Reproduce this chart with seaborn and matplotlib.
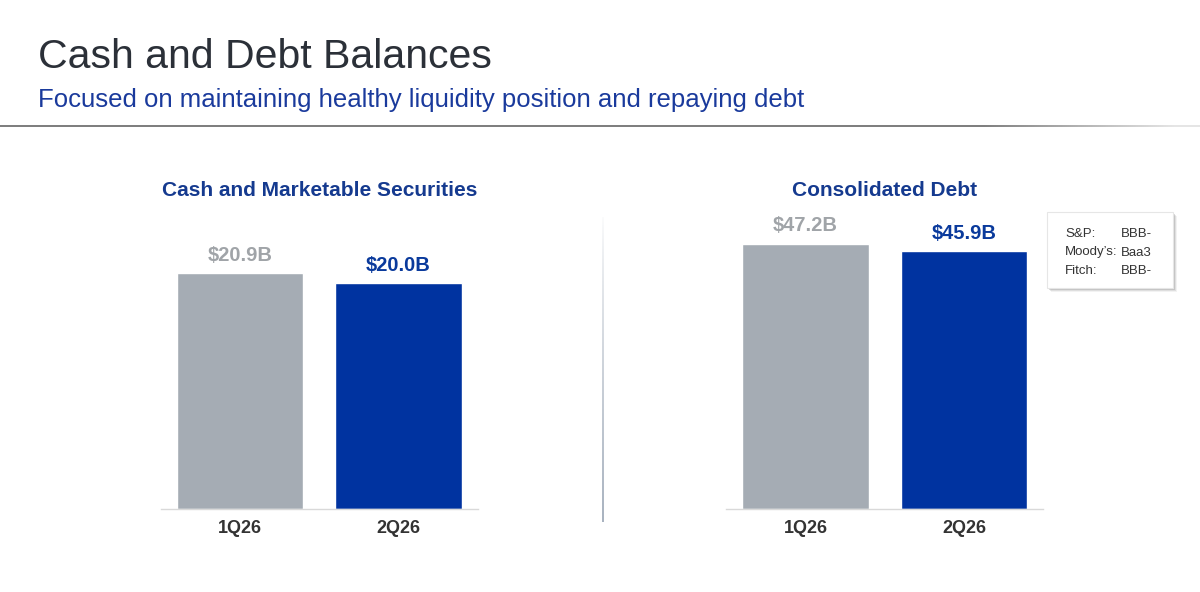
import numpy as np
import pandas as pd
import seaborn as sns
import matplotlib
matplotlib.use('Agg')
import matplotlib.pyplot as plt
from matplotlib.patches import Rectangle
from matplotlib.colors import to_rgb

# data
quarters = ['1Q26', '2Q26']
cash = [20.9, 20.0]
debt = [47.2, 45.9]
agencies = ['S&P:', 'Moody\u2019s:', 'Fitch:']
ratings = ['BBB-', 'Baa3', 'BBB-']

GRAY = '#a5acb4'
BLUE = '#0033a0'
NAVY = '#153a8f'
W, H = 1200, 592


def fx(px):
  return px / W


def fy(py):
  return 1 - py / H


def gradient_strip(rect, color, alphas, vertical=False):
  # draw a faded rule as a tiny image strip in its own axes
  c = np.array(to_rgb(color))
  img = 1 - np.outer(alphas, 1 - c)
  img = img[:, None, :] if vertical else img[None, :, :]
  a = fig.add_axes(rect)
  a.imshow(img, aspect='auto', interpolation='bilinear')
  a.set_axis_off()


def bar_panel(ax, values, ymax, title):
  df = pd.DataFrame({'Quarter': quarters, 'Value': values})
  sns.barplot(data=df, x='Quarter', y='Value', hue='Quarter',
              palette=[GRAY, BLUE], width=0.8, legend=False,
              saturation=1, ax=ax)
  ax.set_xlim(-0.5, 1.5)
  ax.set_ylim(0, ymax)
  sns.despine(ax=ax, left=True)
  ax.spines['bottom'].set_color('#d9d9d9')
  ax.spines['bottom'].set_linewidth(1.0)
  ax.set_yticks([])
  ax.set_xlabel('')
  ax.set_ylabel('')
  ax.tick_params(axis='x', length=0, pad=8, labelsize=13, labelcolor='#333333')
  for lbl in ax.get_xticklabels():
    lbl.set_fontweight('bold')
  for i, v in enumerate(values):
    ax.annotate('${:.1f}B'.format(v), (i, v), xytext=(0, 13),
                textcoords='offset points', ha='center', va='center',
                fontsize=14.5, fontweight='bold',
                color=['#a0a4a8', '#0a3a9c'][i])
  bb = ax.get_position()
  fig.text((bb.x0 + bb.x1) / 2, fy(190), title, ha='center', va='center',
           fontsize=15, fontweight='bold', color=NAVY)


sns.set_style('white')
plt.rcParams['font.family'] = ['Liberation Sans', 'DejaVu Sans']

fig = plt.figure(figsize=(12, 5.92), dpi=100)

ax1 = fig.add_axes([fx(160.75), fy(509), fx(317), 300 / H])
ax2 = fig.add_axes([fx(726.25), fy(509), fx(317), 300 / H])

bar_panel(ax1, cash, 26.6, 'Cash and Marketable Securities')
bar_panel(ax2, debt, 53.4, 'Consolidated Debt')

# header
fig.text(fx(38), fy(57), 'Cash and Debt Balances', ha='left', va='center',
         fontsize=29.5, color='#2b3038')
fig.text(fx(38), fy(100),
         'Focused on maintaining healthy liquidity position and repaying debt',
         ha='left', va='center', fontsize=18.5, color='#1a3a9c')

hx = np.linspace(0, 1, 400)
gradient_strip([0, fy(127), 1, 2 / H], '#7f7f7f',
               np.clip(1 - (hx - 0.82) / 0.2, 0.2, 1))

# vertical separator fading to the top
gradient_strip([fx(602), fy(522), 2 / W, 305 / H], '#a9b3c0',
               np.linspace(0.02, 1, 200) ** 0.8, vertical=True)

# ratings box with soft shadow
for d, a in [(4, 0.10), (3, 0.18), (2, 0.3)]:
  fig.add_artist(Rectangle((fx(1047 + d), fy(288 + d)), fx(126), 76 / H,
                           transform=fig.transFigure, facecolor='#888888',
                           edgecolor='none', alpha=a))
fig.add_artist(Rectangle((fx(1047), fy(288)), fx(126), 76 / H,
                         transform=fig.transFigure, facecolor='white',
                         edgecolor='#e6e6e6', lw=0.8))
for i, (ag, rt) in enumerate(zip(agencies, ratings)):
  yy = fy(234 + 18.5 * i)
  fig.text(fx(1065), yy, ag, ha='left', va='center', fontsize=9.5,
           color='#333333')
  fig.text(fx(1152), yy, rt, ha='right', va='center', fontsize=9.5,
           color='#333333')

fig.savefig('out.png', dpi=100)
